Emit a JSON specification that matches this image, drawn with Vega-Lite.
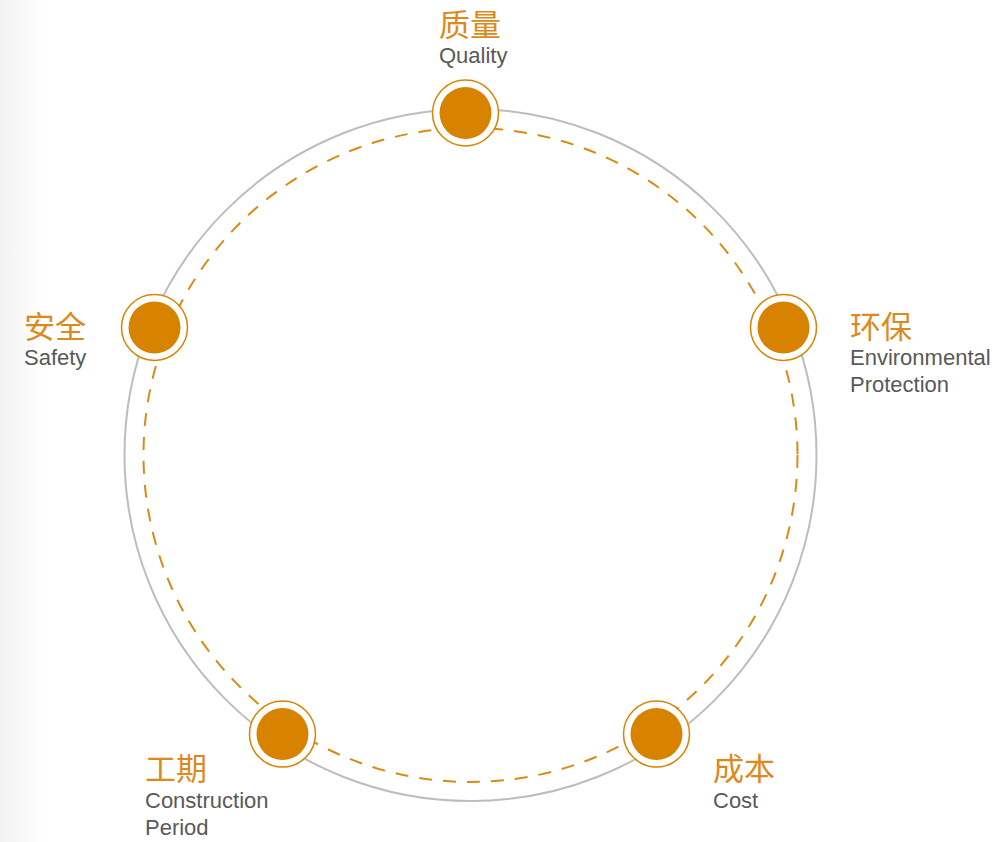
{
  "$schema": "https://vega.github.io/schema/vega-lite/v6.json",
  "width": 1006,
  "height": 842,
  "padding": 0,
  "autosize": {"type": "fit", "contains": "padding"},
  "background": "white",
  "config": {"view": {"stroke": null}},
  "datasets": {
    "edge": [{"x0": 0, "x1": 44, "y0": 0, "y1": 842}],
    "ring": [{"name": "cycle", "x": 470.5, "y": 455}],
    "nodes": [
      {"cn": "质量", "en": "Quality", "x": 465.5, "y": 113},
      {"cn": "环保", "en": "Environmental\nProtection", "x": 783.5, "y": 327.5},
      {"cn": "成本", "en": "Cost", "x": 656.5, "y": 734},
      {"cn": "工期", "en": "Construction\nPeriod", "x": 282.5, "y": 734},
      {"cn": "安全", "en": "Safety", "x": 154.5, "y": 327.5}
    ],
    "labels": [
      {"cn": "质量", "en": "Quality", "x": 439, "ycn": 36, "yen": 63},
      {"cn": "环保", "en": "Environmental\nProtection", "x": 850, "ycn": 338, "yen": 365},
      {"cn": "成本", "en": "Cost", "x": 713, "ycn": 780, "yen": 808},
      {"cn": "工期", "en": "Construction\nPeriod", "x": 145, "ycn": 780, "yen": 808},
      {"cn": "安全", "en": "Safety", "x": 24, "ycn": 338, "yen": 365}
    ]
  },
  "layer": [
    {
      "data": {"name": "edge"},
      "mark": {"type": "rect", "fill": {"gradient": "linear", "x1": 0, "y1": 0, "x2": 1, "y2": 0, "stops": [{"offset": 0, "color": "#F2F2F2"}, {"offset": 1, "color": "#FFFFFF"}]}},
      "encoding": {
        "x": {"field": "x0", "type": "quantitative", "scale": {"domain": [0, 1006], "nice": false, "zero": false}, "axis": null},
        "x2": {"field": "x1"},
        "y": {"field": "y0", "type": "quantitative", "scale": {"domain": [0, 842], "nice": false, "zero": false, "reverse": true}, "axis": null},
        "y2": {"field": "y1"}
      }
    },
    {
      "data": {"name": "ring"},
      "mark": {"type": "point", "shape": "circle", "size": 478864, "filled": false, "stroke": "#BDBDBD", "strokeWidth": 2, "opacity": 1},
      "encoding": {
        "x": {"field": "x", "type": "quantitative"},
        "y": {"field": "y", "type": "quantitative"}
      }
    },
    {
      "data": {"name": "ring"},
      "mark": {"type": "point", "shape": "circle", "size": 427716, "filled": false, "stroke": "#DB8A14", "strokeWidth": 2, "strokeDash": [13, 11], "opacity": 1},
      "encoding": {
        "x": {"field": "x", "type": "quantitative"},
        "y": {"field": "y", "type": "quantitative"}
      }
    },
    {
      "data": {"name": "nodes"},
      "mark": {"type": "point", "shape": "circle", "size": 4356, "filled": true, "fill": "white", "stroke": "#D98300", "strokeWidth": 1.5, "opacity": 1},
      "encoding": {
        "x": {"field": "x", "type": "quantitative"},
        "y": {"field": "y", "type": "quantitative"}
      }
    },
    {
      "data": {"name": "nodes"},
      "mark": {"type": "point", "shape": "circle", "size": 2704, "filled": true, "color": "#D88300", "opacity": 1},
      "encoding": {
        "x": {"field": "x", "type": "quantitative"},
        "y": {"field": "y", "type": "quantitative"}
      }
    },
    {
      "data": {"name": "labels"},
      "mark": {"type": "text", "align": "left", "baseline": "alphabetic", "font": "Noto Sans CJK SC", "fontSize": 31, "color": "#DB8A1C"},
      "encoding": {
        "x": {"field": "x", "type": "quantitative"},
        "y": {"field": "ycn", "type": "quantitative"},
        "text": {"field": "cn"}
      }
    },
    {
      "data": {"name": "labels"},
      "mark": {"type": "text", "align": "left", "baseline": "alphabetic", "font": "Liberation Sans", "fontSize": 22, "lineBreak": "\n", "lineHeight": 27, "color": "#595959"},
      "encoding": {
        "x": {"field": "x", "type": "quantitative"},
        "y": {"field": "yen", "type": "quantitative"},
        "text": {"field": "en"}
      }
    }
  ]
}
